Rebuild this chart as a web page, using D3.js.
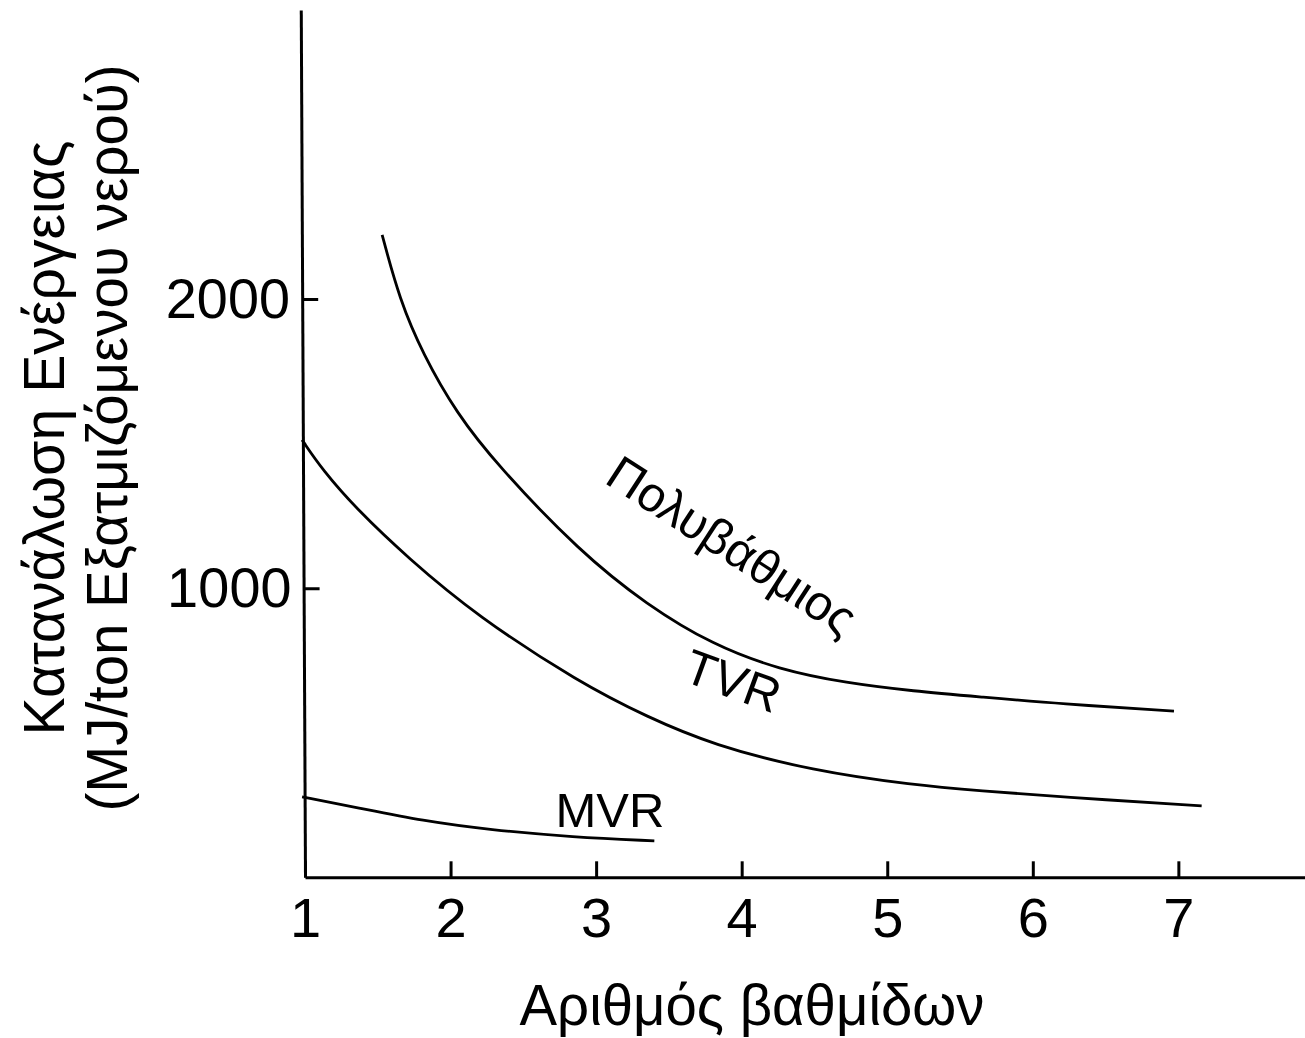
<!DOCTYPE html>
<html lang="el">
<head>
  <meta charset="UTF-8">
  <script src="https://d3js.org/d3.v7.min.js"></script>
  <title>Κατανάλωση Ενέργειας</title>
  <style>
    body { margin: 0; background: #fff; }
    text { font-family: "Liberation Sans", Arial, sans-serif; fill: #000; }
  </style>
</head>
<body>
  <svg id="chart" width="1305" height="1038"></svg>
  <script>
    // number of stages
    const xTicks = [1, 2, 3, 4, 5, 6, 7];
    const yTicks = [1000, 2000];

    // curves (x = stages, y = MJ/ton)
    const multiStageX = [1.53, 1.65, 1.81, 2.04, 2.32, 2.89, 3.35, 3.80, 4.26, 4.72, 5.18, 5.64, 6.19, 6.97];
    const multiStageY = [2222, 1998, 1810, 1606, 1426, 1125, 942, 804, 718, 672, 644, 624, 600, 575];

    const tvrX = [0.98, 1.12, 1.36, 1.70, 2.18, 2.89, 3.35, 3.80, 4.49, 5.18, 5.64, 6.19, 7.16];
    const tvrY = [1513, 1409, 1271, 1108, 904, 672, 555, 458, 368, 319, 299, 278, 247];

    const mvrX = [0.98, 1.36, 1.81, 2.27, 2.84, 3.40];
    const mvrY = [278, 241, 195, 164, 139, 126];

    // curve labels: text, x, y (data units), rotation
    const labelText = ["Πολυβάθμιος", "TVR", "MVR"];
    const labelX = [3.87, 3.90, 3.095];
    const labelY = [1098, 624, 174];
    const labelAngle = [33, 20, 0];

    const svg = d3.select("#chart");

    const xScale = d3.scaleLinear().domain([1, 7.87]).range([305, 1305]);
    const yScale = d3.scaleLinear().domain([0, 3000]).range([877.3, 10]);

    // x axis
    const xAxis = d3.axisBottom(xScale)
      .tickValues(xTicks)
      .tickSize(-16)
      .tickPadding(20)
      .tickSizeOuter(0)
      .tickFormat(d3.format("d"));

    const xg = svg.append("g")
      .attr("transform", `translate(0,${yScale(0)})`)
      .call(xAxis);

    // y axis (slightly leaning, like the original drawing)
    const yAxis = d3.axisLeft(yScale)
      .tickValues(yTicks)
      .tickSize(-16)
      .tickPadding(12)
      .tickSizeOuter(0)
      .tickFormat(d3.format("d"));

    const yg = svg.append("g")
      .attr("transform", `translate(${xScale(1)},${yScale(0)}) skewX(0.28) translate(0,${-yScale(0)})`)
      .call(yAxis);

    [xg, yg].forEach(g => {
      g.select(".domain").attr("stroke", "#000").attr("stroke-width", 3);
      g.selectAll(".tick line").attr("stroke", "#000").attr("stroke-width", 3);
      g.selectAll(".tick text")
        .attr("font-family", "'Liberation Sans', Arial, sans-serif")
        .attr("font-size", 56)
        .attr("fill", "#000");
    });

    // curves
    const line = d3.line()
      .x(d => xScale(d[0]))
      .y(d => yScale(d[1]))
      .curve(d3.curveBasis);

    const series = [
      d3.zip(multiStageX, multiStageY),
      d3.zip(tvrX, tvrY),
      d3.zip(mvrX, mvrY)
    ];

    svg.append("g")
      .selectAll("path")
      .data(series)
      .join("path")
      .attr("d", line)
      .attr("fill", "none")
      .attr("stroke", "#000")
      .attr("stroke-width", 2.8);

    // curve labels
    svg.append("g")
      .selectAll("text")
      .data(labelText)
      .join("text")
      .attr("text-anchor", "middle")
      .attr("font-size", 49)
      .attr("transform", (d, i) =>
        `translate(${xScale(labelX[i])},${yScale(labelY[i])}) rotate(${labelAngle[i]})`)
      .text(d => d);

    // axis titles
    svg.append("text")
      .attr("x", 752)
      .attr("y", 1025)
      .attr("text-anchor", "middle")
      .attr("font-size", 57)
      .attr("textLength", 465)
      .attr("lengthAdjust", "spacingAndGlyphs")
      .text("Αριθμός βαθμίδων");

    svg.append("text")
      .attr("transform", "translate(64,438) rotate(-90)")
      .attr("text-anchor", "middle")
      .attr("font-size", 58)
      .attr("textLength", 595)
      .attr("lengthAdjust", "spacingAndGlyphs")
      .text("Κατανάλωση Ενέργειας");

    svg.append("text")
      .attr("transform", "translate(127,438) rotate(-90)")
      .attr("text-anchor", "middle")
      .attr("font-size", 58)
      .attr("textLength", 747)
      .attr("lengthAdjust", "spacingAndGlyphs")
      .text("(MJ/ton Εξατμιζόμενου νερού)");
  </script>
</body>
</html>
